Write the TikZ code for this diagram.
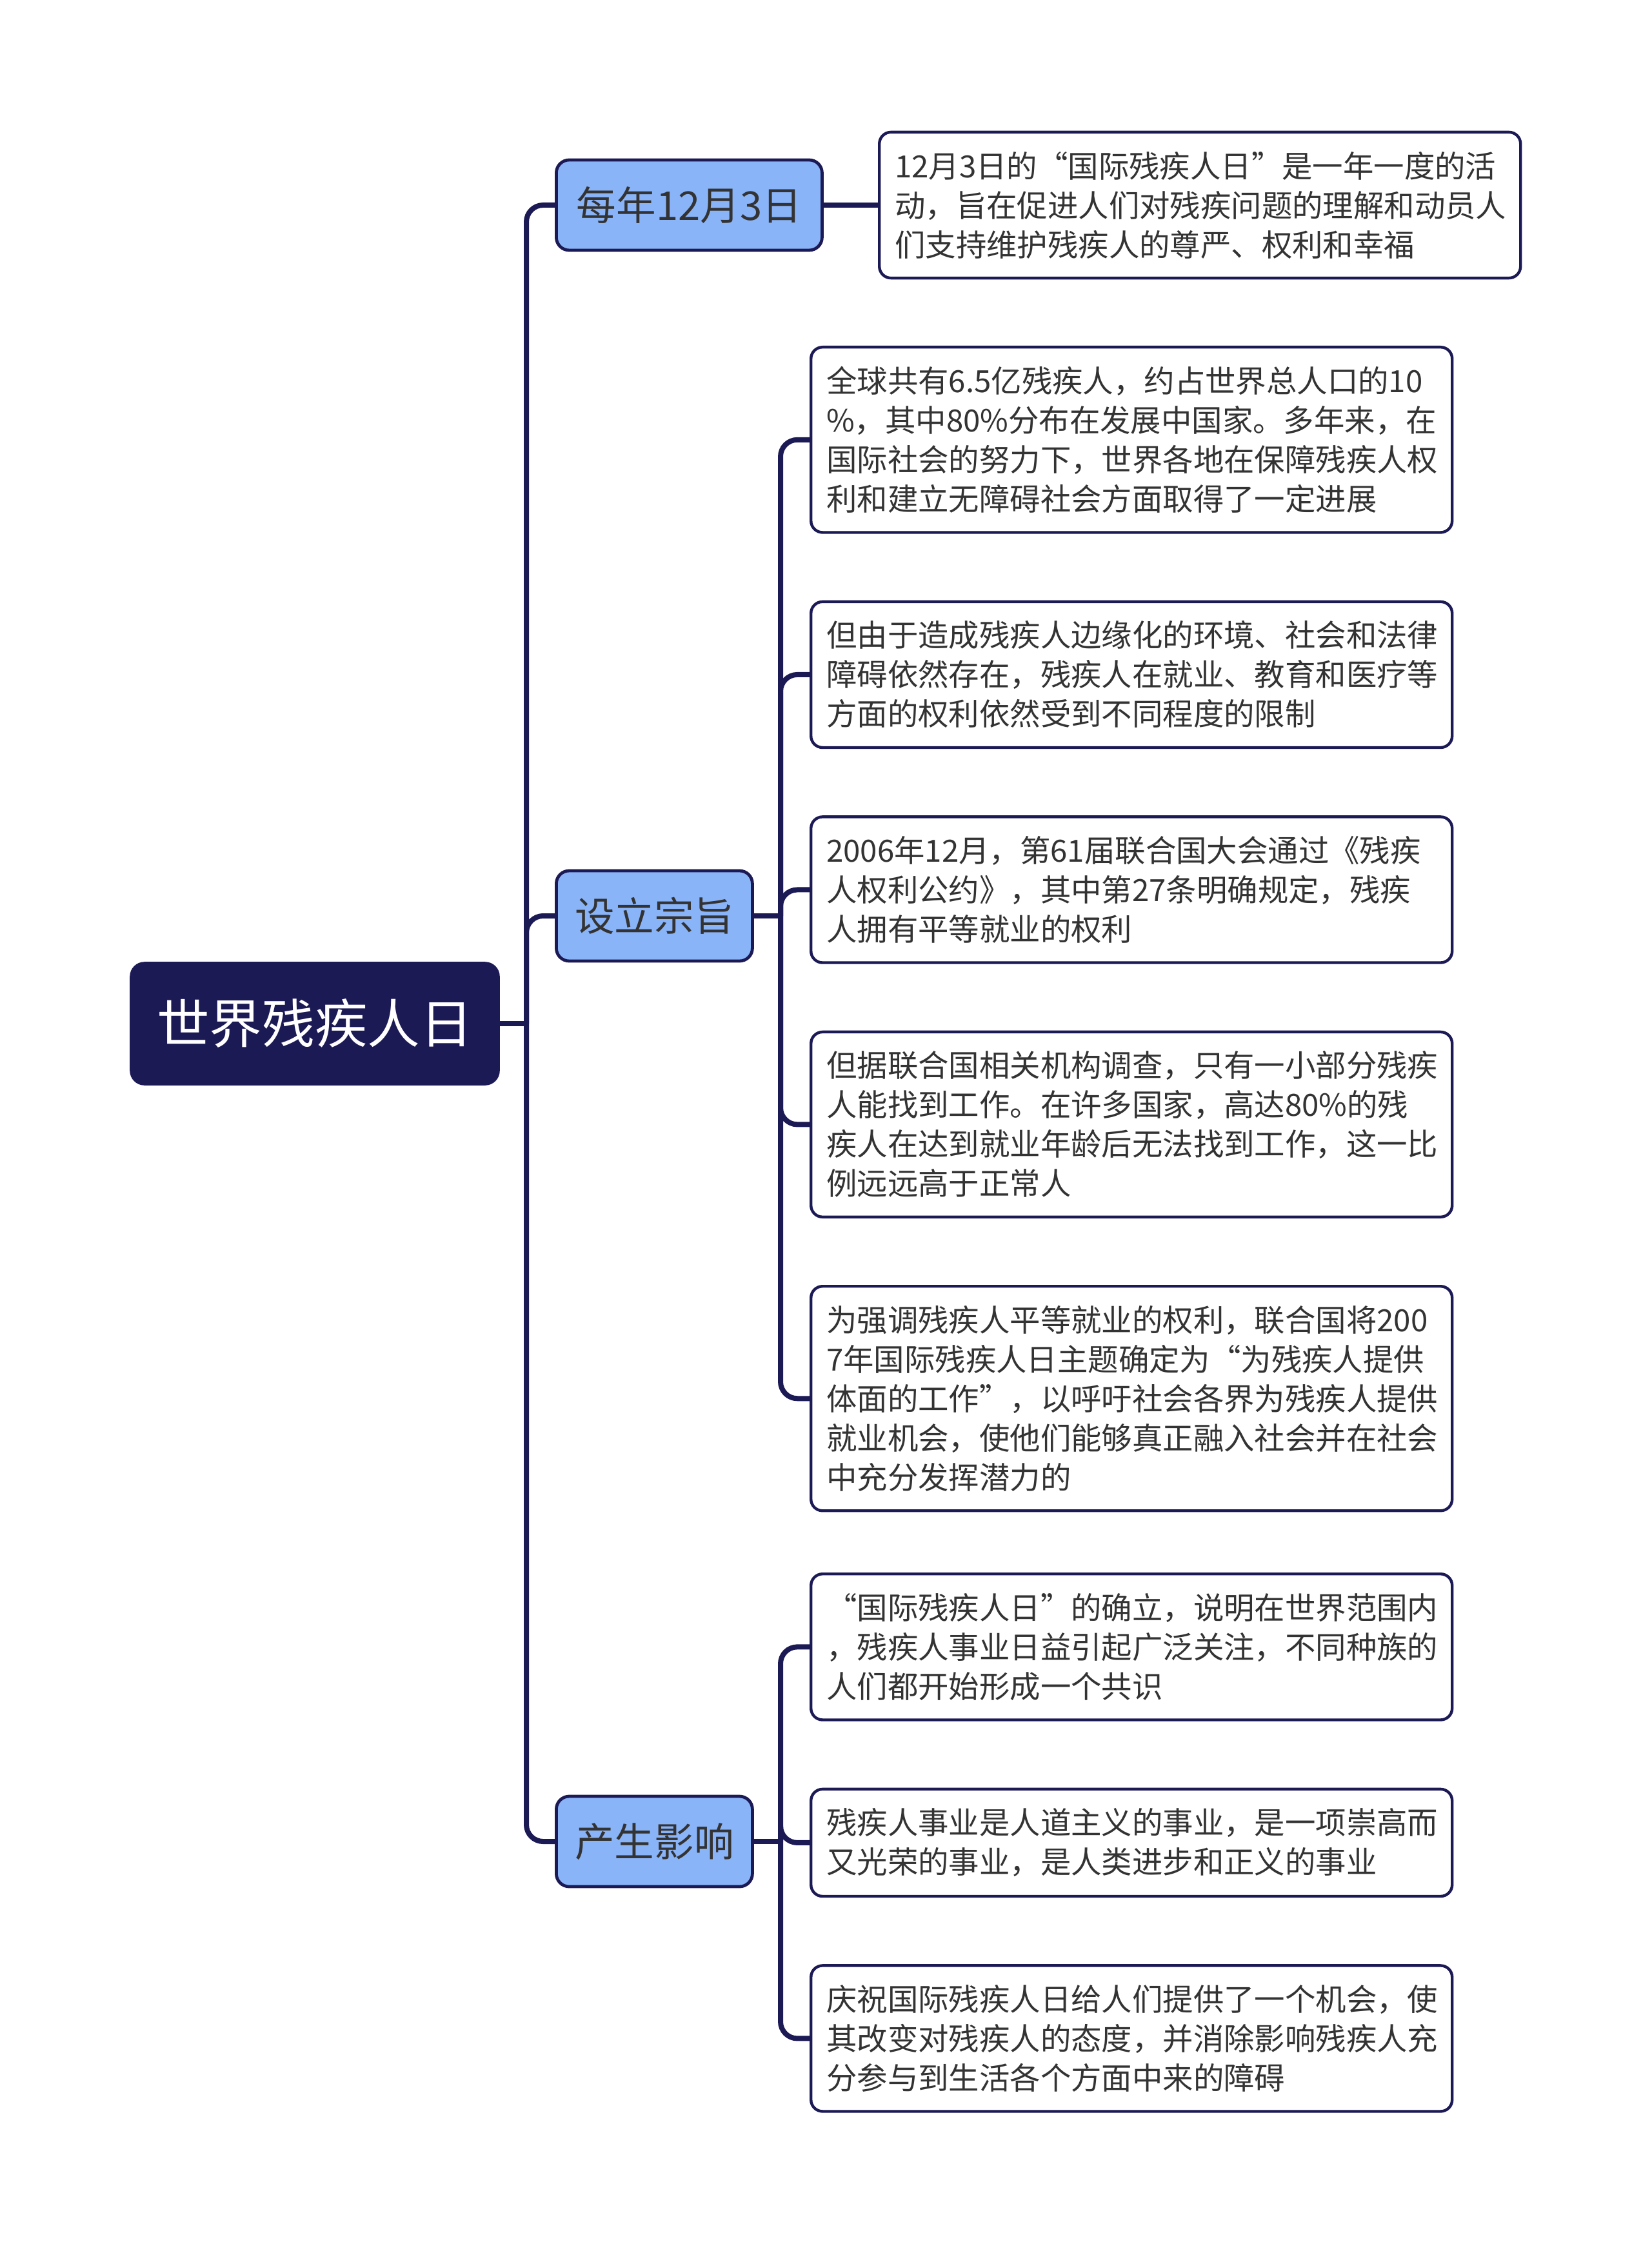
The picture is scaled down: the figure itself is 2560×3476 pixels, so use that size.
\documentclass[tikz,border=0pt]{standalone}
\usepackage{fontspec}
\setmainfont{Noto Sans CJK SC}
\usepackage{tikz}
\usetikzlibrary{positioning}
\definecolor{deepnavy}{RGB}{28,26,85}
\definecolor{softsky}{RGB}{138,180,248}
\definecolor{inkgray}{RGB}{51,51,51}

\begin{document}
\begin{tikzpicture}[x=0.25pt,y=-0.25pt,
  node distance=25.75pt,
  root/.style={draw=deepnavy,fill=deepnavy,rounded corners=5.5pt,text=white,
               minimum width=143pt,minimum height=47.5pt,font=\fontsize{20.4}{24}\selectfont},
  topic/.style={draw=deepnavy,line width=1.2pt,fill=softsky,rounded corners=5pt,text=inkgray,
               minimum height=35pt,inner xsep=0pt,font=\fontsize{15.4}{18}\selectfont},
  leaf/.style={draw=deepnavy,line width=1.1pt,fill=white,rounded corners=4.5pt,text=inkgray,
               align=left,text width=236.5pt,inner xsep=6pt,inner ysep=7.5pt,
               font=\fontsize{11.85}{15.25}\selectfont},
  link/.style={draw=deepnavy,line width=2pt,rounded corners=6.5pt}]
\useasboundingbox (0,0) rectangle (2560,3476);

\node[root] (day) at (488,1587) {世界残疾人日};
\node[topic,minimum width=103pt,anchor=west] (date) at (860,318) {每年12月3日};
\node[topic,minimum width=76pt,anchor=west] (aim) at (860,1420) {设立宗旨};
\node[topic,minimum width=76pt,anchor=west] (effect) at (860,2855) {产生影响};

\node[leaf,anchor=west] (datenote) at (1361,318)
  {12月3日的“国际残疾人日”是一年一度的活\\动，旨在促进人们对残疾问题的理解和动员人\\们支持维护残疾人的尊严、权利和幸福};

\node[leaf,anchor=north west] (aim1) at (1255,536)
  {全球共有6.5亿残疾人，约占世界总人口的10\\\%，其中80\%分布在发展中国家。多年来，在\\国际社会的努力下，世界各地在保障残疾人权\\利和建立无障碍社会方面取得了一定进展};
\node[leaf,below=of aim1] (aim2)
  {但由于造成残疾人边缘化的环境、社会和法律\\障碍依然存在，残疾人在就业、教育和医疗等\\方面的权利依然受到不同程度的限制};
\node[leaf,below=of aim2] (aim3)
  {2006年12月，第61届联合国大会通过《残疾\\人权利公约》，其中第27条明确规定，残疾\\人拥有平等就业的权利};
\node[leaf,below=of aim3] (aim4)
  {但据联合国相关机构调查，只有一小部分残疾\\人能找到工作。在许多国家，高达80\%的残\\疾人在达到就业年龄后无法找到工作，这一比\\例远远高于正常人};
\node[leaf,below=of aim4] (aim5)
  {为强调残疾人平等就业的权利，联合国将200\\7年国际残疾人日主题确定为“为残疾人提供\\体面的工作”，以呼吁社会各界为残疾人提供\\就业机会，使他们能够真正融入社会并在社会\\中充分发挥潜力的};

\node[leaf,anchor=north west] (eff1) at (1255,2438)
  {“国际残疾人日”的确立，说明在世界范围内\\，残疾人事业日益引起广泛关注，不同种族的\\人们都开始形成一个共识};
\node[leaf,below=of eff1] (eff2)
  {残疾人事业是人道主义的事业，是一项崇高而\\又光荣的事业，是人类进步和正义的事业};
\node[leaf,below=of eff2] (eff3)
  {庆祝国际残疾人日给人们提供了一个机会，使\\其改变对残疾人的态度，并消除影响残疾人充\\分参与到生活各个方面中来的障碍};

\coordinate (trunk) at (816,1587);
\coordinate (aimfork) at (1210,1420);
\coordinate (efffork) at (1210,2855);

\draw[link] (day.east) -- (trunk);
\draw[link] (trunk) |- (date.west);
\draw[link] (trunk) |- (aim.west);
\draw[link] (trunk) |- (effect.west);
\draw[link] (date.east) -- (datenote.west);
\draw[link] (aim.east) -- (aimfork);
\foreach \n in {aim1,aim2,aim3,aim4,aim5}
  \draw[link] (aimfork) |- (\n.west);
\draw[link] (effect.east) -- (efffork);
\foreach \n in {eff1,eff2,eff3}
  \draw[link] (efffork) |- (\n.west);
\end{tikzpicture}
\end{document}
